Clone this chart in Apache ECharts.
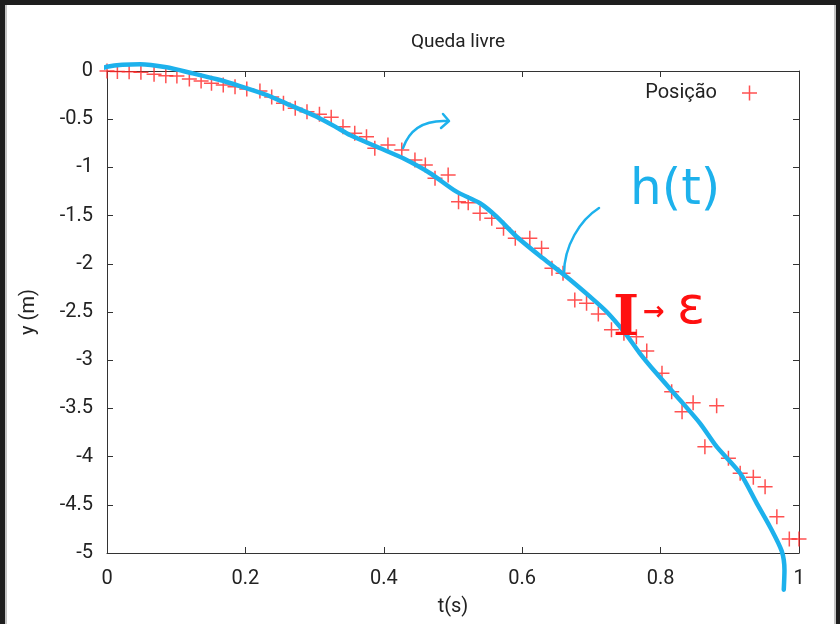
<!DOCTYPE html>
<html>
<head>
<meta charset="utf-8">
<script src="https://cdn.jsdelivr.net/npm/echarts@6/dist/echarts.min.js"></script>
<style>
html,body{margin:0;padding:0;background:#1e1e1e;width:840px;height:624px;overflow:hidden;}
#panel{position:absolute;left:5px;top:5px;width:827px;height:619px;background:#fff;border-left:2px solid #c4c4c4;border-right:2px solid #c4c4c4;}
#chart{position:absolute;left:0;top:0;width:840px;height:624px;}
</style>
</head>
<body>
<div id="panel"></div>
<div id="chart"></div>
<script>
// Measured positions (red "+" markers)
const tPos = [0,0.015,0.032,0.049,0.068,0.085,0.101,0.119,0.136,0.151,0.168,0.185,0.202,0.221,0.238,0.255,0.272,0.289,0.307,0.324,0.341,0.358,0.375,0.387,0.406,0.426,0.445,0.460,0.474,0.493,0.508,0.522,0.539,0.556,0.573,0.590,0.611,0.628,0.643,0.659,0.676,0.693,0.710,0.729,0.747,0.765,0.780,0.802,0.816,0.831,0.847,0.864,0.881,0.898,0.915,0.934,0.951,0.968,0.986,1.0];
const yPos = [0,-0.005,-0.007,-0.013,-0.034,-0.049,-0.052,-0.083,-0.104,-0.128,-0.145,-0.163,-0.187,-0.207,-0.27,-0.335,-0.387,-0.422,-0.449,-0.48,-0.578,-0.646,-0.682,-0.802,-0.768,-0.82,-0.923,-0.975,-1.113,-1.079,-1.356,-1.366,-1.476,-1.528,-1.632,-1.735,-1.735,-1.839,-2.047,-2.099,-2.376,-2.41,-2.521,-2.684,-2.72,-2.756,-2.905,-3.136,-3.327,-3.534,-3.441,-3.897,-3.472,-4.018,-4.173,-4.215,-4.312,-4.623,-4.855,-4.855];

// Hand-drawn fit curve h(t)
const hT = [-0.017,0,0.048,0.086,0.12,0.159,0.192,0.231,0.264,0.303,0.334,0.351,0.395,0.428,0.467,0.505,0.539,0.563,0.592,0.630,0.664,0.698,0.722,0.749,0.770,0.794,0.828,0.857,0.881,0.915,0.939,0.958,0.975,0.979,0.978];
const hY = [-0.01,0.045,0.07,0.038,-0.018,-0.086,-0.156,-0.249,-0.353,-0.474,-0.594,-0.664,-0.802,-0.906,-1.061,-1.252,-1.372,-1.511,-1.719,-1.943,-2.134,-2.341,-2.497,-2.721,-2.928,-3.136,-3.413,-3.655,-3.897,-4.173,-4.485,-4.727,-4.98,-5.18,-5.38];

const xTicks = {min:0, max:1, interval:0.2};
const yTicks = {min:-5, max:0, interval:0.5};

const plusPath = 'path://M-0.1,-1 L0.1,-1 L0.1,-0.1 L1,-0.1 L1,0.1 L0.1,0.1 L0.1,1 L-0.1,1 L-0.1,0.1 L-1,0.1 L-1,-0.1 L-0.1,-0.1 Z';
const FONT = 'Roboto, "Liberation Sans", sans-serif';
const AX = '#333';
const TXT = '#222';
const BLUE = '#1db1ec';
const RED = '#ff2626';

const chart = echarts.init(document.getElementById('chart'));
const axisCommon = {
  type:'value',
  axisLine:{show:true, onZero:false, lineStyle:{color:AX, width:1}},
  axisTick:{show:true, inside:true, length:6, lineStyle:{color:AX}},
  splitLine:{show:false}
};
chart.setOption({
  animation:false,
  title:{text:'Queda livre', left:453, top:28, textAlign:'center',
    textStyle:{fontFamily:FONT, fontSize:19, fontWeight:'normal', color:TXT}},
  legend:{data:[{name:'Posição', icon:plusPath}], right:78, top:78, align:'right',
    itemWidth:15, itemHeight:15,
    textStyle:{fontFamily:FONT, fontSize:20, color:TXT, padding:[0,20,0,0]}},
  grid:{left:107, right:41, top:71, bottom:71},
  xAxis:[
    Object.assign({}, axisCommon, xTicks, {position:'bottom',
      axisLabel:{margin:16, fontFamily:FONT, fontSize:20, color:TXT},
      name:'t(s)', nameLocation:'middle', nameGap:44,
      nameTextStyle:{fontFamily:FONT, fontSize:20, color:TXT}}),
    Object.assign({}, axisCommon, xTicks, {position:'top', axisLabel:{show:false}})
  ],
  yAxis:[
    Object.assign({}, axisCommon, yTicks, {position:'left',
      axisLabel:{margin:14, fontFamily:FONT, fontSize:20, color:TXT},
      name:'y (m)', nameLocation:'middle', nameGap:68, nameRotate:90,
      nameTextStyle:{fontFamily:FONT, fontSize:20, color:TXT}}),
    Object.assign({}, axisCommon, yTicks, {position:'right', axisLabel:{show:false}})
  ],
  series:[
    {name:'Posição', type:'scatter', symbol:plusPath, symbolSize:15,
      itemStyle:{color:RED}, z:3,
      data:tPos.map((t,i)=>[t,yPos[i]])},
    {name:'h', type:'line', smooth:0.25, symbol:'none', clip:false, z:5,
      lineStyle:{color:BLUE, width:4.5, cap:'round', join:'round'},
      data:hT.map((t,i)=>[t,hY[i]])}
  ],
  graphic:[
    {type:'bezierCurve', z:100, shape:{x1:403,y1:148,cpx1:410,cpy1:128,cpx2:426,cpy2:120,x2:447,y2:121},
      style:{stroke:BLUE, lineWidth:2.5, fill:null, lineCap:'round'}},
    {type:'polyline', z:100, shape:{points:[[443,114],[449,121],[441,128]]},
      style:{stroke:BLUE, lineWidth:2.5, fill:null, lineCap:'round', lineJoin:'round'}},
    {type:'bezierCurve', z:100, shape:{x1:564,y1:274,cpx1:564,cpy1:246,cpx2:580,cpy2:220,x2:599,y2:208},
      style:{stroke:BLUE, lineWidth:2.5, fill:null, lineCap:'round'}},
    {type:'text', z:100, left:630, top:166,
      style:{text:'h(t)', fill:BLUE, font:'50px "DejaVu Sans"'}},
    {type:'text', z:100, left:613, top:292,
      style:{text:'I', fill:'#ff1010', font:'bold 56px "DejaVu Serif"'}},
    {type:'text', z:100, left:643, top:300,
      style:{text:'→', fill:'#ff1010', font:'bold 26px "DejaVu Sans"'}},
    {type:'text', z:100, left:677, top:283,
      style:{text:'ε', fill:'#ff1010', font:'52px "DejaVu Sans"'}}
  ]
});
</script>
</body>
</html>
